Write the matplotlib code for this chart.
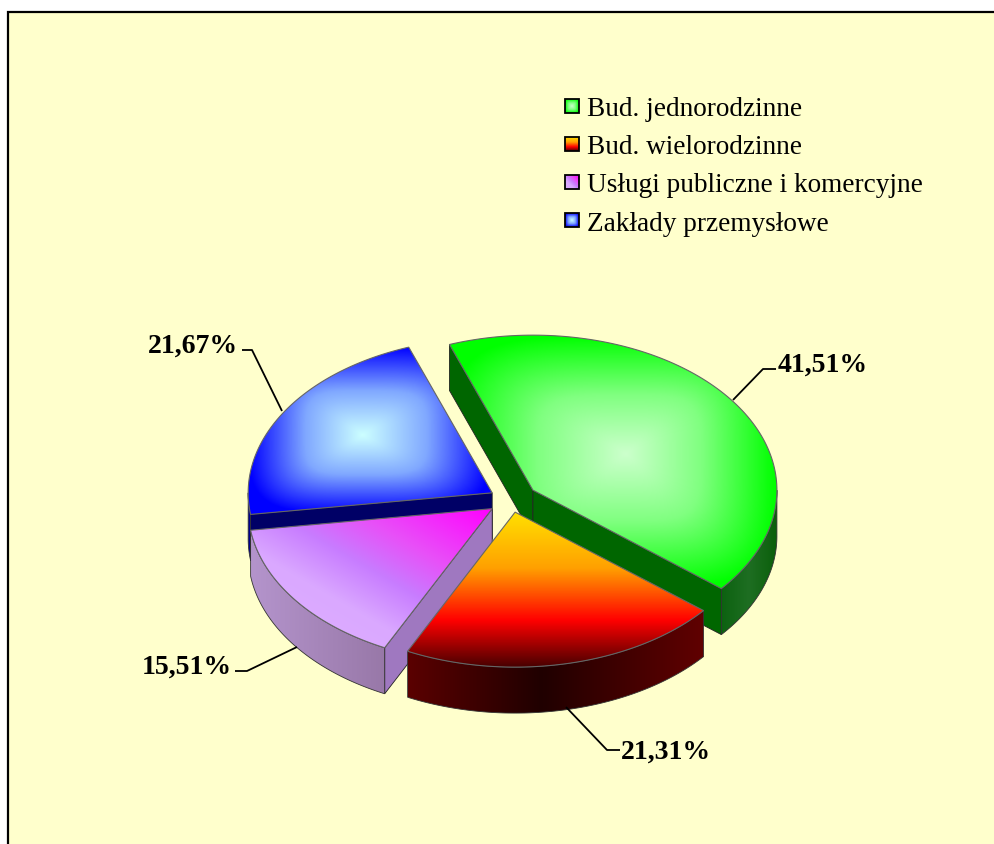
import numpy as np
import matplotlib
matplotlib.use("Agg")
import matplotlib.pyplot as plt
from matplotlib.colors import LinearSegmentedColormap
from matplotlib.patches import Polygon, Rectangle

# dane
labels = ["Bud. jednorodzinne", "Bud. wielorodzinne",
          "Usługi publiczne i komercyjne", "Zakłady przemysłowe"]
shares = [41.51, 21.31, 15.51, 21.67]

# geometria kola 3D (piksele)
cx, cy = 511, 501
rx, ry = 244, 155
depth = 46
explode = [0.11, 0.08, 0.095, 0.09]
start_angle = 110

plt.rcParams["font.family"] = ["Liberation Serif", "DejaVu Serif"]

fig = plt.figure(figsize=(9.95, 8.45), dpi=100)
ax = fig.add_axes([0, 0, 1, 1])
ax.axis("off")

ax.add_patch(Rectangle((8, 13), 1000, 850, fc="#ffffcc", ec="black", lw=1.6, zorder=0))


def cmap(*stops):
  return LinearSegmentedColormap.from_list("g", list(stops))


top_green = cmap((0, "#ccffcc"), (0.5, "#80ff80"), (1, "#00ff00"))
top_blue = cmap((0, "#ccffff"), (0.5, "#80a8ff"), (1, "#0000ff"))
top_red = cmap((0, "#ffe000"), (0.36, "#ffa000"), (0.7, "#ff0000"), (1, "#4a0000"))
top_purple = cmap((0, "#ff00ff"), (0.3, "#e850f8"), (0.47, "#c87cff"), (0.65, "#daa8ff"), (1, "#e0b0ff"))

wall_green = cmap((0, "#0c6210"), (0.5, "#1e6e22"), (1, "#0b5f0b"))
wall_red = cmap((0, "#5a0000"), (0.45, "#200000"), (1, "#600000"))
wall_purple = cmap((0, "#b494cc"), (1, "#9878a8"))
wall_blue = cmap((0, "#0000a0"), (1, "#000080"))

top_maps = [top_green, top_red, top_purple, top_blue]
wall_maps = [wall_green, wall_red, wall_purple, wall_blue]
cut_colors = ["#006600", "#400000", "#9f78c0", "#000066"]
# ktore sciany przekroju widac (poczatek, koniec wycinka)
cut_visible = [(True, True), (False, False), (True, False), (True, False)]
modes = ["box", "vertical", "diagonal", "box"]
focus = [(0.54, 0.467), None, None, (0.47, 0.53)]


def grad(mode, colors, xs, ys, foc=None):
  # xs, ys znormalizowane 0..1 w obrebie ramki
  if mode == "box":
    fx, fy = foc if foc else (0.5, 0.5)
    dx = np.where(xs < fx, (fx - xs) / fx, (xs - fx) / (1 - fx))
    dy = np.where(ys < fy, (fy - ys) / fy, (ys - fy) / (1 - fy))
    t = (dx ** 4 + dy ** 4) ** (1 / 4)
  elif mode == "vertical":
    t = ys
  elif mode == "horizontal":
    t = xs
  else:
    t = ((1 - xs) + ys) / 2
  return colors(np.clip(t, 0, 1))


def fill(points, mode, colors, z, edge="#666666", lw=0.8, foc=None):
  points = np.array(points)
  x0, y0 = points.min(axis=0)
  x1, y1 = points.max(axis=0)
  xs, ys = np.meshgrid(np.linspace(0, 1, 200), np.linspace(0, 1, 200))
  im = ax.imshow(grad(mode, colors, xs, ys, foc), extent=(x0, x1, y1, y0),
                 aspect="auto", interpolation="bilinear", zorder=z)
  poly = Polygon(points, closed=True, fc="none", ec=edge, lw=lw, zorder=z + 0.1)
  ax.add_patch(poly)
  im.set_clip_path(poly)


def arc(center, a0, a1, dy=0):
  t = np.radians(np.linspace(a0, a1, 120))
  return np.column_stack([center[0] + rx * np.cos(t), center[1] - ry * np.sin(t) + dy])


angles = start_angle - np.cumsum([0] + shares) * 3.6
slices = []
for i in range(len(shares)):
  a0, a1 = angles[i], angles[i + 1]
  mid = np.radians((a0 + a1) / 2)
  center = (cx + explode[i] * rx * np.cos(mid), cy - explode[i] * ry * np.sin(mid))
  slices.append((a0, a1, center))

# kolejnosc rysowania: niebieski, zielony, fioletowy, czerwony
z = 2
for i in [3, 0, 2, 1]:
  a0, a1, center = slices[i]
  top = arc(center, a0, a1)
  apex = np.array(center)
  down = np.array([0, depth])
  # sciany przekroju
  for p, seen in zip((top[0], top[-1]), cut_visible[i]):
    if seen:
      wall = [apex, p, p + down, apex + down]
      ax.add_patch(Polygon(wall, closed=True, fc=cut_colors[i], ec="#222222", lw=0.6, zorder=z))
  # sciana zewnetrzna - tylko dolna polowka elipsy
  lo = max(a1, -180)
  hi = min(a0, 0)
  if hi > lo:
    front = arc(center, lo, hi)
    outer = np.vstack([front, (front + down)[::-1]])
    fill(outer, "horizontal", wall_maps[i], z + 0.3, edge="#333333", lw=0.6)
  # wierzch
  fill(np.vstack([[apex], top]), modes[i], top_maps[i], z + 0.6, foc=focus[i])
  z += 1

# etykiety z odnosnikami
leaders = [
    ([733, 763, 776], [401, 370, 370], 778, 372, "left"),
    ([566, 607, 620], [708, 751, 751], 621, 759, "left"),
    ([297, 247, 235], [648, 672, 672], 232, 674, "right"),
    ([282, 252, 242], [412, 351, 351], 238, 353, "right"),
]
for value, (lx, ly, tx, ty, ha) in zip(shares, leaders):
  ax.plot(lx, ly, color="black", lw=1.3, zorder=10, solid_capstyle="butt")
  ax.text(tx, ty, f"{value:.2f}%".replace(".", ","), ha=ha, va="baseline",
          fontsize=20, fontweight="bold", color="black", zorder=11)

# legenda
legend_y = [115, 153, 191, 229]
legend_text_y = [115.5, 154, 192, 231]
for i, (label, y, ty) in enumerate(zip(labels, legend_y, legend_text_y)):
  square = [(565, y - 15), (579, y - 15), (579, y - 1), (565, y - 1)]
  fill(square, modes[i], top_maps[i], 12, edge="black", lw=1.3)
  ax.text(587, ty, label, ha="left", va="baseline", fontsize=19.6, color="black", zorder=13)

ax.set_xlim(0, 995)
ax.set_ylim(845, 0)
fig.savefig("out.png", dpi=100, facecolor="white")
